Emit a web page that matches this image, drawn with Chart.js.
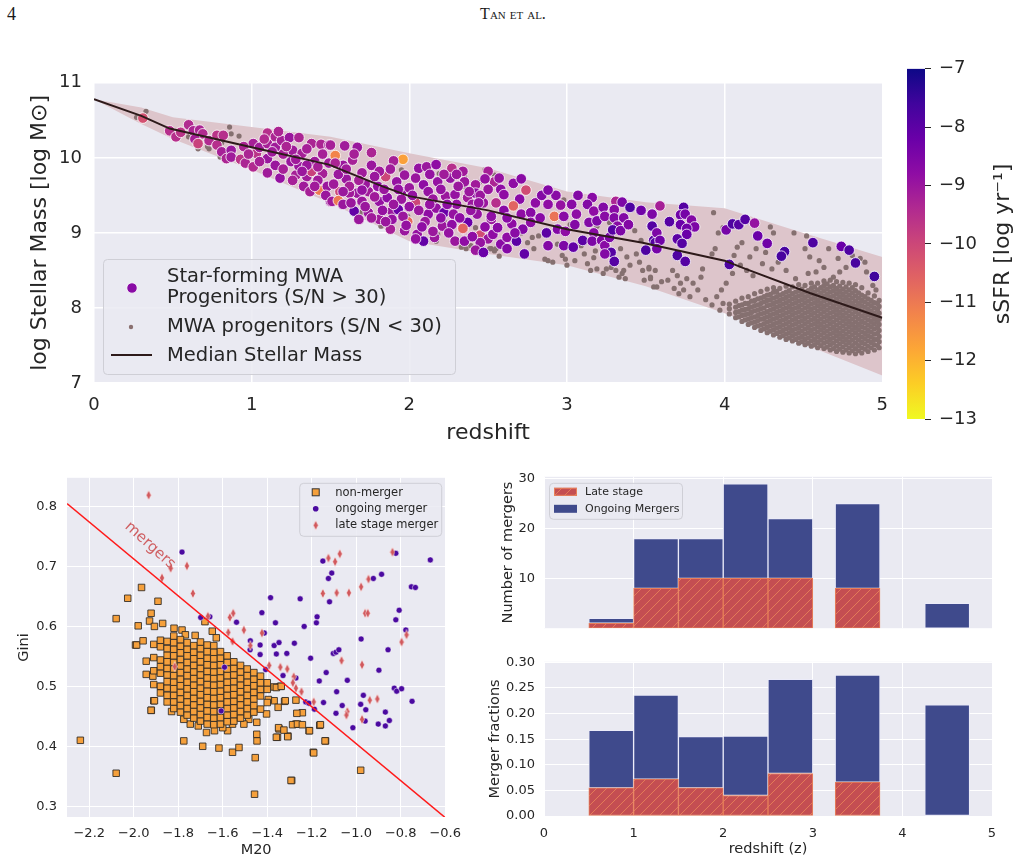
<!DOCTYPE html>
<html>
<head>
<meta charset="utf-8">
<script src="https://cdn.jsdelivr.net/npm/chart.js@4.4.1/dist/chart.umd.min.js"></script>
<style>
body{margin:0;background:#fff}
#page{position:relative;width:1026px;height:862px;overflow:hidden;background:#fff}
canvas{position:absolute}
.hdr{position:absolute;top:5px;line-height:1;font-family:"Liberation Serif",serif;font-size:17px;color:#1a1a1a}
</style>
</head>
<body>
<div id="page">
<div class="hdr" style="left:7px;font-size:18px">4</div>
<div class="hdr" style="left:0;width:1026px;text-align:center;font-variant:small-caps;font-size:16px;top:6px">Tan et al.</div>
<canvas id="mass" width="900" height="400" style="left:0;top:60px"></canvas>
<canvas id="cbar" width="126" height="390" style="left:900px;top:50px"></canvas>
<canvas id="gini" width="470" height="402" style="left:0;top:460px"></canvas>
<canvas id="hcount" width="556" height="185" style="left:470px;top:460px"></canvas>
<canvas id="hfrac" width="556" height="217" style="left:470px;top:645px"></canvas>
</div>
<script>

/* ---------- TOP PANEL DATA ---------- */

const zTicks=[0,1,2,3,4,5]
const massTicks=[7,8,9,10,11]
const sfrTicks=[-13,-12,-11,-10,-9,-8,-7]

// median stellar mass track
const medZ=[0,0.3,0.48,1.0,1.49,1.83,2.0,2.29,2.5,3.0,3.48,4.0,4.12,4.54,5.0]
const medM=[10.78,10.56,10.39,10.14,9.91,9.62,9.49,9.38,9.30,9.05,8.87,8.63,8.53,8.20,7.87]

// shaded band
const bandZ=[0,0.3,0.5,1.0,1.5,2.0,2.5,3.0,3.5,4.0,4.5,5.0]
const bandHi=[10.78,10.67,10.54,10.41,10.28,10.06,9.86,9.55,9.41,9.33,9.00,8.68]
const bandLo=[10.78,10.45,10.25,9.84,9.40,8.89,8.72,8.57,8.29,7.93,7.52,7.10]

// star-forming progenitors: [z, logM, sSFR]
const sfPts=[
[0.31,10.53,-10.2],[0.48,10.36,-9.5],[0.52,10.28,-9.5],[0.55,10.34,-9.6],[0.60,10.44,-9.4],[0.63,10.36,-9.3],
[0.67,10.37,-9.3],[0.69,10.32,-9.4],[0.64,10.25,-9.2],[0.66,10.19,-9.9],[0.73,10.23,-9.4],[0.78,10.30,-9.6],
[0.82,10.30,-9.5],[0.78,10.17,-9.5],[0.81,10.08,-9.2],[0.87,10.10,-9.0],[0.84,9.99,-9.3],[0.87,10.01,-9.1],
[0.93,9.98,-9.6],[0.96,9.93,-9.3],[1.01,10.19,-9.2],[1.03,10.06,-9.6],[1.01,9.88,-9.4],[1.05,10.14,-9.1],
[1.10,10.33,-9.5],[1.10,10.19,-9.2],[1.10,9.99,-9.0],[1.15,10.28,-9.3],[1.15,10.14,-9.1],[1.10,9.80,-9.1],
[1.15,9.90,-9.0],[1.18,9.73,-8.9],[1.19,10.23,-9.2],[1.24,10.27,-9.0],[1.26,10.10,-9.1],[1.25,9.95,-9.0],
[1.28,9.77,-9.2],[1.30,10.27,-9.3],[1.32,10.06,-9.2],[1.30,9.89,-9.0],[1.35,9.75,-9.1],[1.38,10.19,-9.3],
[1.38,9.82,-9.9],[1.33,9.62,-9.1],[1.37,9.55,-9.2],[1.44,10.18,-9.3],[1.43,9.57,-11.0],[1.45,9.79,-9.2],
[1.48,9.62,-9.0],[1.49,10.17,-9.2],[1.49,9.93,-9.1],[1.50,9.42,-9.0],[0.95,10.15,-9.3],[1.20,10.05,-9.2],
[1.40,9.95,-9.1],[1.45,10.05,-9.2],
[0.98,10.05,-9.3],[1.05,9.95,-9.2],[1.13,10.08,-9.1],[1.20,9.85,-9.2],[1.22,10.15,-9.3],[1.28,9.98,-9.1],
[1.35,10.12,-9.2],[1.35,9.90,-9.0],[1.42,9.70,-9.1],[1.42,9.88,-9.2],[1.47,9.50,-9.0],[1.40,9.62,-9.1],
[1.26,9.70,-9.2],[1.32,9.82,-9.0],[1.08,10.25,-9.4],[1.17,10.35,-9.3],
[1.53,10.03,-11.2],[1.59,10.16,-9.1],[1.67,10.14,-9.0],[1.64,9.97,-9.2],[1.58,9.90,-9.0],[1.53,9.93,-9.3],
[1.50,10.17,-9.2],[1.76,10.07,-9.3],[1.76,9.90,-9.0],[1.96,9.98,-11.7],[1.90,9.96,-9.2],[1.85,9.75,-10.0],
[1.81,9.82,-9.1],[1.97,9.77,-9.0],[2.06,9.86,-8.9],[2.11,9.88,-9.0],[2.17,9.91,-8.8],[2.27,9.86,-9.5],
[2.34,9.82,-9.1],[2.26,9.73,-8.9],[2.04,9.73,-9.0],[2.09,9.64,-8.8],[2.18,9.68,-8.9],[2.35,9.68,-9.0],
[2.42,9.64,-9.1],[2.50,9.82,-9.2],[2.54,9.68,-9.3],[1.56,9.55,-10.0],[1.51,9.42,-9.1],[1.55,9.43,-11.0],
[1.58,9.38,-9.0],[1.65,9.29,-8.1],[1.67,9.53,-9.0],[1.74,9.55,-9.1],[1.81,9.42,-8.9],[1.74,9.27,-9.0],
[1.86,9.47,-8.8],[1.89,9.29,-9.0],[1.81,9.18,-9.1],[1.88,9.05,-9.2],[1.93,9.31,-8.2],[1.99,9.15,-10.7],
[2.04,9.40,-10.0],[1.97,9.03,-9.0],[2.05,8.98,-8.9],[2.09,8.89,-8.1],[2.12,9.25,-8.8],[2.17,9.33,-8.9],
[2.23,9.49,-9.0],[2.22,9.27,-8.2],[2.21,9.09,-9.0],[2.27,9.11,-8.8],[2.34,9.05,-9.0],[2.29,9.51,-8.9],
[2.37,9.47,-9.1],[2.42,9.53,-8.8],[2.37,9.14,-8.2],[2.34,9.06,-10.6],[2.47,9.40,-9.0],[2.43,9.25,-8.9],
[2.45,8.97,-10.1],[2.50,8.92,-9.0],[2.45,8.87,-8.9],[2.42,8.77,-9.0],[2.47,8.74,-8.2],[2.29,8.89,-9.0],
[2.35,8.89,-8.8],[2.04,8.92,-8.9],[2.16,8.94,-9.0],[1.89,9.18,-8.9],[1.70,9.42,-9.0],[1.62,9.53,-9.1],
[2.52,9.18,-9.0],[1.60,9.72,-9.0],[1.70,9.80,-9.1],[1.72,9.65,-9.0],[1.80,9.62,-8.9],[1.62,9.62,-9.2],
[1.95,9.55,-8.9],[2.00,9.60,-9.0],[1.92,9.68,-8.9],[2.12,9.55,-8.9],[2.15,9.45,-9.0],[2.30,9.38,-8.9],
[2.40,9.38,-9.0],[2.00,9.35,-8.9],[2.10,9.15,-9.0],[2.20,9.20,-8.8],[2.28,9.25,-8.9],[1.95,9.45,-9.0],
[2.45,9.50,-9.0],[1.55,9.78,-9.0],[1.65,10.05,-9.2],[2.22,9.78,-9.1],[2.38,9.55,-9.0],
[1.52,9.65,-9.1],[1.58,9.55,-9.0],[1.60,9.85,-9.1],[1.63,9.40,-9.0],[1.68,9.70,-9.2],[1.70,9.57,-8.9],
[1.72,9.35,-9.0],[1.78,9.48,-9.1],[1.78,9.75,-9.0],[1.83,9.30,-8.9],[1.84,9.58,-9.0],[1.88,9.85,-9.1],
[1.90,9.38,-9.0],[1.93,9.58,-8.9],[1.96,9.22,-9.0],[1.98,9.10,-8.9],[1.85,9.15,-9.0],[1.76,9.20,-9.1],
[1.68,9.18,-9.0],
[2.02,9.50,-8.9],[2.06,9.30,-9.0],[2.08,9.08,-8.8],[2.13,9.38,-8.9],[2.15,9.02,-9.0],[2.20,9.58,-8.9],
[2.24,9.38,-8.8],[2.25,9.00,-8.9],[2.31,9.62,-9.0],[2.32,9.20,-8.8],[2.39,9.30,-8.9],[2.40,8.95,-8.8],
[2.44,9.40,-8.9],[2.48,9.08,-8.8],[2.50,9.58,-9.0],[2.48,9.72,-8.9],[2.30,9.78,-9.0],[2.13,9.78,-8.9],
[2.58,9.58,-8.8],[2.60,9.30,-8.7],[2.65,9.12,-8.8],[2.70,9.45,-8.7],[2.72,9.05,-8.6],[2.80,9.40,-8.8],
[2.83,9.20,-8.7],[2.84,9.50,-8.6],[2.93,9.50,-8.7],[2.94,9.05,-8.6],[2.58,8.85,-8.7],[2.53,8.98,-8.8],
[2.57,9.73,-8.9],[2.66,9.66,-8.8],[2.71,9.72,-8.7],[2.74,9.57,-10.1],[2.60,9.51,-8.8],[2.55,9.40,-9.5],
[2.66,9.36,-10.6],[2.52,9.22,-8.8],[2.62,9.20,-8.7],[2.71,9.25,-8.8],[2.77,9.27,-8.7],[2.77,9.14,-8.8],
[2.56,9.07,-8.7],[2.62,8.94,-8.8],[2.68,8.89,-8.0],[2.62,8.79,-8.6],[2.73,8.72,-8.1],[2.67,9.00,-8.7],
[2.88,9.57,-8.6],[2.88,9.38,-8.8],[2.92,9.22,-10.9],[2.87,9.00,-8.0],[2.88,8.83,-8.6],[2.96,9.37,-8.9],
[2.98,9.22,-8.7],[2.99,9.02,-8.8],[2.98,8.83,-8.5],[3.04,8.81,-8.1],[3.03,9.38,-8.7],[3.07,9.50,-8.6],
[3.06,9.25,-8.8],[3.05,9.11,-8.6],[3.10,8.90,-8.0],[3.16,9.47,-8.7],[3.13,9.38,-8.6],[3.17,9.29,-8.8],
[3.14,9.14,-8.6],[3.17,9.00,-8.7],[3.16,8.89,-8.5],[3.23,9.34,-8.6],[3.19,9.16,-8.5],[3.24,9.22,-8.7],
[3.22,8.90,-8.6],[3.24,8.83,-8.7],[3.27,8.94,-8.5],[3.28,8.74,-7.9],[3.24,8.72,-8.6],[3.30,8.62,-7.9],
[3.31,9.42,-9.3],[3.30,9.31,-8.7],[3.30,9.20,-8.6],[3.35,9.41,-8.5],[3.36,9.20,-8.6],[3.32,9.09,-8.7],
[3.29,9.04,-7.9],[3.34,9.03,-8.5],[3.39,9.11,-8.6],[3.40,9.34,-7.8],[3.47,9.30,-8.3],[3.54,9.25,-8.0],
[3.54,9.09,-7.8],[3.50,8.77,-7.8],[3.55,8.90,-7.9],
[3.59,9.36,-9.2],[3.54,9.25,-8.5],[3.54,9.09,-7.9],[3.57,9.00,-8.5],[3.56,8.87,-7.9],[3.59,8.90,-8.3],
[3.57,8.79,-8.4],[3.65,9.15,-7.9],[3.74,9.34,-7.9],[3.72,9.24,-8.3],[3.75,9.25,-8.4],[3.79,9.17,-8.6],
[3.81,9.08,-8.5],[3.72,9.11,-8.2],[3.76,9.06,-8.3],[3.76,8.98,-8.2],[3.70,8.92,-8.0],[3.73,8.86,-7.9],
[3.70,8.70,-7.8],[3.75,8.62,-7.9],[4.01,9.04,-8.4],[4.05,9.12,-7.8],[4.09,9.11,-7.9],[4.13,9.18,-7.9],
[4.19,9.13,-8.9],[4.21,8.96,-8.2],[4.27,8.86,-8.3],[4.03,8.58,-7.8],[4.38,8.75,-7.7],[4.36,8.69,-7.7],
[4.56,8.87,-7.8],[4.74,8.82,-8.2],[4.79,8.77,-7.8],[4.83,8.60,-7.7],[4.95,8.42,-7.6]
]

// low S/N progenitors, scattered ones: [z, logM]
const lowSparse=[
[0.27,10.54],[0.33,10.62],[0.60,10.28],[0.66,10.12],[0.72,10.15],[0.73,10.12],[0.75,10.23],[0.81,10.20],
[0.80,10.01],[0.86,10.41],[0.87,10.32],[0.92,10.29],
[1.69,9.27],[1.82,9.09],[1.95,9.84],[2.19,9.79],[2.45,9.68],[2.48,9.84],[2.54,9.77],[2.35,9.62],[2.17,8.89],
[2.18,8.98],[2.33,8.81],[2.36,8.79],[2.39,8.83],[2.52,8.79],[2.54,8.76],[2.26,9.03],[2.11,9.27],[2.22,9.16],
[2.42,9.07],[1.88,9.22],[1.99,9.22],[2.35,9.75],
[2.51,8.79],[2.55,8.79],[2.57,8.69],[2.71,9.00],[2.75,8.87],[2.78,8.94],[2.82,8.96],[2.79,8.79],[2.86,8.65],
[2.88,8.63],[2.91,8.61],[2.97,8.70],[2.99,8.65],[3.00,8.57],[3.05,8.63],[2.98,9.44],[3.02,9.11],[2.94,8.85],
[3.11,8.72],[3.13,8.59],[3.17,8.67],[3.15,8.50],[3.19,8.52],[3.23,8.46],[3.25,8.52],[3.28,8.54],[3.31,8.50],
[3.33,8.41],[3.35,8.46],[3.37,8.39],[3.36,8.50],[3.38,8.68],[3.40,8.57],[3.44,8.72],[3.46,8.61],[3.48,8.50],
[3.49,8.37],[3.52,8.54],[3.53,8.41],[3.55,8.28],[3.56,8.50],[3.43,9.03],[3.34,8.79],[3.26,8.79],[3.18,8.76],
[3.09,8.83],[3.47,8.90],[3.27,9.14],[3.19,9.09],
[3.93,9.27],[3.96,9.00],[3.99,9.07],[3.94,8.79],[3.92,8.72],[3.86,8.52],[3.85,8.41],[3.83,8.24],[3.78,8.15],
[3.74,8.24],[3.71,8.19],[3.68,8.26],[3.64,8.37],[3.60,8.35],[3.57,8.28],[3.53,8.39],[3.52,8.52],[3.67,8.50],
[3.70,8.43],[3.76,8.39],[3.80,8.33],[3.72,8.33],[3.88,8.11],[3.92,8.04],[3.95,8.15],[3.98,8.24],[3.99,8.06],
[3.97,7.97],[4.01,8.33],[4.05,8.46],[4.06,8.70],[4.08,8.81],[4.11,8.87],[4.10,8.57],[4.14,8.50],[4.18,8.43],
[4.16,8.68],[4.20,8.79],[4.24,8.59],[4.26,8.74],[4.29,9.08],[4.31,9.00],[4.30,8.52],[4.34,8.61],[4.39,8.50],
[4.44,9.00],[4.45,8.39],[4.52,8.96],[4.51,8.79],[4.54,8.68],[4.53,8.46],[4.58,8.48],[4.60,8.63],[4.63,8.54],
[4.66,8.79],[4.69,8.41],[4.72,8.66],[4.73,8.48],[4.77,8.54],[4.81,8.70],[4.86,8.66],[4.89,8.61],[4.90,8.48],
[4.94,8.30],[4.96,8.24]
]

// low S/N progenitors, crowded region at high z (column z, masses in that column)
const lowDenseZ=[4.03,4.07,4.11,4.15,4.19,4.23,4.27,4.31,4.35,4.39,4.43,4.47,4.51,4.55,4.59,4.63,4.67,4.71,4.75,4.79,4.83,4.87,4.91,4.95,4.98,
4.09,4.13,4.17,4.21,4.25,4.29,4.33,4.37,4.41,4.45,4.49,4.53,4.57,4.61,4.65,4.69,4.73,4.77,4.81,4.85,4.89,4.93,4.97]
const lowDenseM=[
[7.92,7.99,8.05],
[7.87,7.94,8.01,8.09],
[7.82,7.90,7.97,8.04,8.13],
[7.78,7.85,7.92,7.99,8.06,8.15],
[7.74,7.81,7.88,7.96,8.03,8.10,8.19],
[7.70,7.77,7.85,7.92,7.99,8.06,8.13,8.22],
[7.67,7.74,7.81,7.88,7.95,8.03,8.10,8.17,8.25],
[7.64,7.71,7.78,7.85,7.92,7.99,8.06,8.13,8.21,8.27],
[7.61,7.68,7.75,7.82,7.89,7.96,8.03,8.10,8.17,8.26],
[7.58,7.65,7.72,7.79,7.86,7.93,8.00,8.07,8.14,8.21,8.29],
[7.56,7.63,7.70,7.77,7.84,7.91,7.98,8.05,8.12,8.19,8.28],
[7.53,7.60,7.67,7.74,7.81,7.88,7.95,8.02,8.09,8.16,8.23,8.31],
[7.51,7.58,7.65,7.72,7.79,7.86,7.93,8.00,8.07,8.14,8.21,8.30],
[7.49,7.56,7.63,7.70,7.77,7.84,7.91,7.98,8.05,8.12,8.19,8.26,8.33],
[7.47,7.54,7.61,7.68,7.75,7.82,7.89,7.96,8.03,8.10,8.17,8.24,8.33],
[7.46,7.53,7.60,7.67,7.74,7.81,7.88,7.95,8.02,8.09,8.16,8.23,8.30,8.36],
[7.44,7.51,7.58,7.65,7.72,7.79,7.86,7.93,8.00,8.07,8.14,8.21,8.28,8.37],
[7.42,7.49,7.56,7.63,7.70,7.77,7.84,7.91,7.98,8.05,8.12,8.19,8.26,8.35],
[7.41,7.48,7.55,7.62,7.69,7.76,7.83,7.90,7.97,8.04,8.11,8.18,8.25,8.34],
[7.40,7.47,7.54,7.61,7.68,7.75,7.82,7.89,7.96,8.03,8.10,8.17,8.24,8.33],
[7.39,7.46,7.53,7.60,7.67,7.74,7.81,7.88,7.95,8.02,8.09,8.16,8.23,8.31],
[7.40,7.47,7.54,7.61,7.68,7.75,7.82,7.89,7.96,8.03,8.10,8.17,8.27],
[7.42,7.49,7.56,7.63,7.70,7.77,7.84,7.91,7.98,8.05,8.12,8.20],
[7.44,7.51,7.58,7.65,7.72,7.79,7.86,7.93,8.00,8.07,8.16],
[7.47,7.55,7.62,7.70,7.78,7.85,7.93,8.02,8.10],
[7.88,7.95,8.03],
[7.84,7.91,7.98,8.06],
[7.80,7.87,7.94,8.01,8.09],
[7.76,7.83,7.90,7.97,8.04,8.12],
[7.72,7.79,7.86,7.93,8.00,8.08,8.15],
[7.69,7.76,7.83,7.90,7.97,8.04,8.11,8.18],
[7.66,7.73,7.80,7.87,7.94,8.01,8.08,8.15,8.22],
[7.63,7.70,7.77,7.84,7.91,7.98,8.05,8.12,8.19],
[7.60,7.67,7.74,7.81,7.88,7.95,8.02,8.09,8.16,8.23],
[7.58,7.65,7.72,7.79,7.86,7.93,8.00,8.07,8.14,8.21],
[7.55,7.62,7.69,7.76,7.83,7.90,7.97,8.04,8.11,8.18,8.25],
[7.53,7.60,7.67,7.74,7.81,7.88,7.95,8.02,8.09,8.16,8.23],
[7.51,7.58,7.65,7.72,7.79,7.86,7.93,8.00,8.07,8.14,8.21,8.28],
[7.50,7.57,7.64,7.71,7.78,7.85,7.92,7.99,8.06,8.13,8.20,8.27],
[7.48,7.55,7.62,7.69,7.76,7.83,7.90,7.97,8.04,8.11,8.18,8.25,8.32],
[7.46,7.53,7.60,7.67,7.74,7.81,7.88,7.95,8.02,8.09,8.16,8.23,8.30],
[7.45,7.52,7.59,7.66,7.73,7.80,7.87,7.94,8.01,8.08,8.15,8.22,8.29],
[7.44,7.51,7.58,7.65,7.72,7.79,7.86,7.93,8.00,8.07,8.14,8.21,8.28],
[7.43,7.50,7.57,7.64,7.71,7.78,7.85,7.92,7.99,8.06,8.13,8.20,8.27],
[7.43,7.50,7.57,7.64,7.71,7.78,7.85,7.92,7.99,8.06,8.13,8.20],
[7.45,7.52,7.59,7.66,7.73,7.80,7.87,7.94,8.01,8.08,8.15],
[7.47,7.54,7.61,7.68,7.75,7.82,7.89,7.96,8.03,8.10],
[7.50,7.58,7.66,7.74,7.82,7.90,7.98,8.06]
]

/* ---------- GINI - M20 DATA ---------- */

const m20Ticks=[-2.2,-2.0,-1.8,-1.6,-1.4,-1.2,-1.0,-0.8,-0.6]
const giniTicks=[0.3,0.4,0.5,0.6,0.7,0.8]
const lineM20=[-2.3,-0.6]
const lineGini=[0.805,0.281]

// non-merger outliers [M20, Gini]
const nmOut=[
[-2.240,0.410],[-2.079,0.613],[-2.079,0.355],[-2.027,0.647],[-1.965,0.665],[-1.891,0.642],[-1.980,0.601],
[-1.992,0.569],[-1.921,0.460],[-1.910,0.476],[-1.775,0.409],[-1.690,0.400],[-1.617,0.397],[-1.556,0.390],
[-1.527,0.398],[-1.454,0.381],[-1.457,0.320],[-1.446,0.409],[-1.290,0.343],[-1.193,0.390],[-1.138,0.409],
[-1.164,0.435],[-1.212,0.426],[-0.980,0.360],[-1.242,0.456],[-1.267,0.455],[-1.271,0.437],[-1.307,0.417],
[-1.354,0.415],[-1.347,0.429],[-1.322,0.475],[-1.341,0.500],[-1.369,0.499],
[-1.922,0.622],[-1.929,0.609],[-1.870,0.605],[-1.907,0.600],[-1.819,0.597],[-1.783,0.594],[-1.768,0.586],
[-1.724,0.585],[-1.680,0.608],[-1.647,0.592],[-1.629,0.581],[-1.987,0.569],[-1.958,0.576],[-1.944,0.542],
[-1.944,0.520],[-1.914,0.517],[-1.878,0.500],[-1.907,0.476],[-1.922,0.460],[-1.830,0.458],[-1.447,0.420],
[-1.359,0.415],[-1.349,0.431],[-1.325,0.427],[-1.308,0.416],[-1.286,0.436],[-1.264,0.437],[-1.242,0.436],
[-1.210,0.426],[-1.161,0.436],[-1.140,0.409],[-1.191,0.389],[-1.271,0.477],[-1.293,0.343],[-1.359,0.498],
[-1.337,0.500],[-1.369,0.476],[-1.351,0.465],[-1.319,0.476],[-1.395,0.478],[-1.403,0.454],[-1.447,0.440],
[-1.483,0.445],[-1.505,0.437],[-1.527,0.448],[-1.556,0.437],[-1.578,0.426],[-1.600,0.431],[-1.637,0.426],
[-1.673,0.423],[-1.710,0.434],[-1.746,0.437],[-1.775,0.445]
]

// non-merger crowded core (column M20, Gini values in that column)
const nmCoreM20=[-1.91,-1.88,-1.85,-1.82,-1.79,-1.76,-1.73,-1.70,-1.67,-1.64,-1.61,-1.58,-1.55,-1.52,-1.49,-1.46,-1.43,-1.40]
const nmCoreGini=[
[0.503,0.526,0.548,0.570],
[0.489,0.500,0.522,0.533,0.544,0.566,0.577],
[0.474,0.485,0.497,0.508,0.519,0.530,0.541,0.552,0.563,0.575],
[0.463,0.474,0.485,0.496,0.507,0.518,0.529,0.540,0.551,0.562,0.573,0.584],
[0.457,0.468,0.479,0.490,0.501,0.512,0.523,0.534,0.545,0.556,0.567,0.578],
[0.452,0.463,0.474,0.485,0.496,0.507,0.518,0.529,0.540,0.551,0.562,0.573],
[0.447,0.458,0.469,0.480,0.491,0.502,0.513,0.524,0.535,0.546,0.557,0.568],
[0.442,0.453,0.464,0.475,0.486,0.497,0.508,0.519,0.530,0.541,0.552,0.563,0.574],
[0.437,0.448,0.459,0.470,0.481,0.492,0.503,0.514,0.525,0.536,0.547,0.558,0.569],
[0.436,0.447,0.458,0.469,0.480,0.491,0.502,0.513,0.524,0.535,0.546,0.557,0.568],
[0.437,0.448,0.459,0.470,0.481,0.492,0.503,0.514,0.525,0.536,0.547,0.558],
[0.441,0.452,0.463,0.474,0.485,0.496,0.507,0.518,0.529,0.540,0.551],
[0.442,0.453,0.464,0.475,0.486,0.497,0.508,0.519,0.530,0.541],
[0.447,0.458,0.469,0.480,0.491,0.502,0.513,0.524,0.535],
[0.452,0.463,0.474,0.485,0.496,0.507,0.518,0.529],
[0.457,0.468,0.479,0.490,0.501,0.512,0.523],
[0.462,0.484,0.495,0.506,0.517],
[0.473,0.495,0.506]
]

// ongoing mergers [M20, Gini]
const ongoing=[
[-1.783,0.724],[-1.699,0.615],[-1.658,0.616],[-1.592,0.532],[-1.607,0.459],[-1.538,0.607],[-1.476,0.576],
[-1.477,0.561],[-1.432,0.553],[-1.432,0.569],[-1.413,0.589],[-1.424,0.623],[-1.385,0.648],[-1.407,0.528],
[-1.369,0.568],[-1.363,0.606],[-1.359,0.554],[-1.347,0.573],[-1.329,0.518],[-1.312,0.555],[-1.278,0.572],
[-1.271,0.514],[-1.252,0.646],[-1.234,0.600],[-1.227,0.474],[-1.213,0.472],[-1.205,0.547],[-1.188,0.462],
[-1.179,0.606],[-1.176,0.616],[-1.166,0.509],[-1.150,0.709],[-1.147,0.473],[-1.135,0.523],[-1.125,0.680],
[-1.120,0.641],[-1.110,0.689],[-1.103,0.555],[-1.091,0.557],[-1.088,0.491],[-1.091,0.455],[-1.078,0.561],
[-1.063,0.468],[-1.040,0.510],[-1.015,0.431],[-0.978,0.579],[-0.980,0.470],[-0.968,0.485],[-0.960,0.442],
[-0.957,0.461],[-0.923,0.680],[-0.898,0.527],[-0.901,0.437],[-0.886,0.687],[-0.857,0.561],[-0.869,0.457],
[-0.851,0.443],[-0.869,0.434],[-0.829,0.497],[-0.822,0.611],[-0.822,0.722],[-0.818,0.492],[-0.807,0.627],
[-0.796,0.496],[-0.777,0.594],[-0.752,0.666],[-0.749,0.475],[-0.734,0.665],[-0.667,0.711]
]

// late stage mergers [M20, Gini]
const lateStage=[
[-1.933,0.819],[-1.873,0.681],[-1.834,0.697],[-1.761,0.701],[-1.734,0.655],[-1.816,0.533],[-1.667,0.617],
[-1.575,0.590],[-1.568,0.615],[-1.553,0.622],[-1.556,0.575],[-1.505,0.594],[-1.476,0.568],[-1.424,0.589],
[-1.391,0.535],[-1.341,0.532],[-1.310,0.529],[-1.281,0.516],[-1.285,0.506],[-1.271,0.497],[-1.246,0.491],
[-1.191,0.474],[-1.150,0.655],[-1.125,0.714],[-1.095,0.708],[-1.088,0.656],[-1.074,0.721],[-1.066,0.543],
[-1.033,0.656],[-1.040,0.458],[-1.044,0.452],[-0.978,0.666],[-0.974,0.536],[-0.974,0.445],[-0.960,0.622],
[-0.948,0.622],[-0.945,0.679],[-0.939,0.477],[-0.905,0.479],[-0.837,0.724],[-0.796,0.574],[-0.774,0.586]
]

/* ---------- HISTOGRAM DATA ---------- */

const binMid=[0.75,1.25,1.75,2.25,2.75,3.5,4.5]
const lateCount=[1,8,10,10,10,8,0]
const allCount=[2,18,18,29,22,25,5]
const lateFrac=[0.055,0.072,0.055,0.040,0.083,0.066,0]
const allFrac=[0.167,0.236,0.155,0.156,0.267,0.275,0.217]
const zhTicks=[0,1,2,3,4,5]
const countTicks=[10,20,30]
const fracTicks=[0,0.05,0.10,0.15,0.20,0.25,0.30]

/* ---------- helpers ---------- */

Chart.defaults.font.family='"DejaVu Sans"'
Chart.defaults.color='#262626'
Chart.defaults.animation=false
Chart.defaults.plugins.legend.display=false
Chart.defaults.plugins.tooltip.enabled=false

const plasmaStops=['#0d0887','#41049d','#6a00a8','#8f0da4','#b12a90','#cc4778','#e16462','#f2844b','#fca636','#fcce25','#f0f921']

function hexRgb(h){return [parseInt(h.substr(1,2),16),parseInt(h.substr(3,2),16),parseInt(h.substr(5,2),16)]}

function plasma(s){
let t=(-7-s)/6
t=Math.min(1,Math.max(0,t))
const f=t*10,i=Math.min(9,Math.floor(f)),r=f-i
const a=hexRgb(plasmaStops[i]),b=hexRgb(plasmaStops[i+1])
return 'rgb('+a.map((v,k)=>Math.round(v+(b[k]-v)*r)).join(',')+')'
}

const minus=s=>String(s).replace('-','\u2212')
const setTicks=arr=>s=>{s.ticks=arr.map(v=>({value:v}))}

const plotBg={id:'plotBg',beforeDraw(c){
const a=c.chartArea,ctx=c.ctx
ctx.save();ctx.fillStyle='#eaeaf2';ctx.fillRect(a.left,a.top,a.width,a.height);ctx.restore()
}}

function legendBox(ctx,x,y,w,h){
ctx.beginPath()
ctx.roundRect(x+0.5,y+0.5,w,h,4)
ctx.fillStyle='rgba(234,234,242,0.85)'
ctx.fill()
ctx.strokeStyle='#cfcfd6'
ctx.lineWidth=1
ctx.stroke()
}

const gridW={color:'#ffffff',lineWidth:1.5,drawTicks:false}
const gridN={color:'#ffffff',lineWidth:1,drawTicks:false}

/* ---------- TOP: stellar mass vs redshift ---------- */

const lowPts=lowSparse.slice()
lowDenseZ.forEach((z,i)=>lowDenseM[i].forEach(m=>lowPts.push([z,m])))

const massLegend={id:'massLegend',afterDraw(c){
const ctx=c.ctx,a=c.chartArea
const x0=a.left+9,y0=a.bottom-124
ctx.save()
legendBox(ctx,x0,y0,352,115)
ctx.fillStyle=plasma(-8.7);ctx.strokeStyle='#fff';ctx.lineWidth=0.8
ctx.beginPath();ctx.arc(x0+29,y0+29,5.2,0,Math.PI*2);ctx.fill();ctx.stroke()
ctx.fillStyle='#8a7070'
ctx.beginPath();ctx.arc(x0+28,y0+68,2.2,0,Math.PI*2);ctx.fill()
ctx.strokeStyle='#2d1a1a';ctx.lineWidth=2
ctx.beginPath();ctx.moveTo(x0+8,y0+96);ctx.lineTo(x0+49,y0+96);ctx.stroke()
ctx.fillStyle='#262626';ctx.font='19.5px "DejaVu Sans"';ctx.textBaseline='middle'
ctx.fillText('Star-forming MWA',x0+64,y0+18)
ctx.fillText('Progenitors (S/N > 30)',x0+64,y0+39)
ctx.fillText('MWA progenitors (S/N < 30)',x0+64,y0+68)
ctx.fillText('Median Stellar Mass',x0+64,y0+97)
ctx.restore()
}}

new Chart(document.getElementById('mass'),{
type:'scatter',
data:{datasets:[
{label:'Median Stellar Mass',type:'line',data:medZ.map((z,i)=>({x:z,y:medM[i]})),
 borderColor:'#2d1a1a',borderWidth:2,pointRadius:0,fill:false,order:0},
{label:'Star-forming MWA Progenitors (S/N > 30)',data:sfPts.map(p=>({x:p[0],y:p[1]})),
 backgroundColor:sfPts.map(p=>plasma(p[2])),borderColor:'#ffffff',borderWidth:0.8,pointRadius:5.3,order:1},
{label:'MWA progenitors (S/N < 30)',data:lowPts.map(p=>({x:p[0],y:p[1]})),
 backgroundColor:'#857070',borderWidth:0,pointRadius:2.6,order:2},
{label:'band upper',type:'line',data:bandZ.map((z,i)=>({x:z,y:bandHi[i]})),
 fill:'+1',backgroundColor:'#ddc5cb',borderColor:'rgba(0,0,0,0)',borderWidth:0,pointRadius:0,order:3},
{label:'band lower',type:'line',data:bandZ.map((z,i)=>({x:z,y:bandLo[i]})),
 fill:false,borderColor:'rgba(0,0,0,0)',borderWidth:0,pointRadius:0,order:4}
]},
options:{
responsive:false,
layout:{padding:{left:0,right:15,top:20,bottom:0}},
scales:{
x:{type:'linear',min:0,max:5,afterBuildTicks:setTicks(zTicks),afterFit:s=>{s.height=77},
 grid:gridW,border:{display:false},
 ticks:{padding:12,font:{size:18},maxRotation:0,callback:v=>minus(v)},
 title:{display:true,text:'redshift',font:{size:22},padding:{top:0,bottom:14}}},
y:{type:'linear',min:7,max:11,afterBuildTicks:setTicks(massTicks),afterFit:s=>{s.width=94},
 grid:gridW,border:{display:false},
 ticks:{padding:12,font:{size:18},callback:v=>minus(v)},
 title:{display:true,text:'log Stellar Mass [log M\u2299]',font:{size:22},padding:{top:27,bottom:0}}}
}
},
plugins:[plotBg,massLegend]
})

/* ---------- COLORBAR ---------- */

const cbTitle={id:'cbTitle',afterDraw(c){
const ctx=c.ctx,a=c.chartArea
ctx.save()
ctx.translate(a.right+78,(a.top+a.bottom)/2)
ctx.rotate(-Math.PI/2)
ctx.fillStyle='#262626';ctx.font='22px "DejaVu Sans"';ctx.textAlign='center';ctx.textBaseline='middle'
ctx.fillText('sSFR [log yr\u207B\u00B9]',0,0)
ctx.restore()
}}

new Chart(document.getElementById('cbar'),{
type:'bar',
data:{labels:['sSFR'],datasets:[{data:[[sfrTicks[0],sfrTicks[sfrTicks.length-1]]],
 barPercentage:1,categoryPercentage:1,borderWidth:0,
 backgroundColor:ctx=>{
  const a=ctx.chart.chartArea
  if(!a) return '#8f0da4'
  const g=ctx.chart.ctx.createLinearGradient(0,a.top,0,a.bottom)
  plasmaStops.forEach((c,i)=>g.addColorStop(i/(plasmaStops.length-1),c))
  return g
 }}]},
options:{
responsive:false,
layout:{padding:{left:7,right:0,top:16,bottom:21}},
scales:{
x:{display:false},
y:{position:'right',min:-13,max:-7,afterBuildTicks:setTicks(sfrTicks),afterFit:s=>{s.width=101},
 grid:{drawOnChartArea:false,drawTicks:true,tickLength:6,tickColor:'#262626',tickWidth:1},
 border:{display:false},
 ticks:{padding:8,font:{size:18},callback:v=>minus(v)}}
}
},
plugins:[cbTitle]
})

/* ---------- GINI vs M20 ---------- */

const nmPts=nmOut.slice()
nmCoreM20.forEach((m,i)=>nmCoreGini[i].forEach(g=>nmPts.push([m,g])))

// thin diamond marker for late stage mergers
const thinD=document.createElement('canvas')
thinD.width=6;thinD.height=11
;(()=>{
const d=thinD.getContext('2d')
d.beginPath();d.moveTo(3,0.5);d.lineTo(5.5,5.5);d.lineTo(3,10.5);d.lineTo(0.5,5.5);d.closePath()
d.fillStyle='#d1585c';d.fill();d.strokeStyle='rgba(255,255,255,0.9)';d.lineWidth=0.6;d.stroke()
})()

const giniExtras={id:'giniExtras',afterDraw(c){
const ctx=c.ctx,a=c.chartArea,xs=c.scales.x,ys=c.scales.y
ctx.save()
// mergers label along the dividing line
ctx.translate(xs.getPixelForValue(-1.927),ys.getPixelForValue(0.735))
ctx.rotate(42*Math.PI/180)
ctx.fillStyle='#cf5f62';ctx.font='15px "DejaVu Sans"';ctx.textAlign='center';ctx.textBaseline='middle'
ctx.fillText('mergers',0,0)
ctx.restore()
// legend
const x0=a.right-146,y0=a.top+5
ctx.save()
legendBox(ctx,x0,y0,142,53)
ctx.fillStyle='#f5a03c';ctx.strokeStyle='#333';ctx.lineWidth=1
ctx.fillRect(x0+13,y0+6,7,7);ctx.strokeRect(x0+13,y0+6,7,7)
ctx.fillStyle='#4b0aa0';ctx.beginPath();ctx.arc(x0+16.5,y0+26,2.8,0,Math.PI*2);ctx.fill()
ctx.drawImage(thinD,x0+13.5,y0+37)
ctx.fillStyle='#262626';ctx.font='11.5px "DejaVu Sans"';ctx.textBaseline='middle'
ctx.fillText('non-merger',x0+36,y0+10)
ctx.fillText('ongoing merger',x0+36,y0+26)
ctx.fillText('late stage merger',x0+36,y0+42)
ctx.restore()
}}

new Chart(document.getElementById('gini'),{
type:'scatter',
data:{datasets:[
{label:'mergers line',type:'line',data:lineM20.map((m,i)=>({x:m,y:lineGini[i]})),
 borderColor:'#ff1a1a',borderWidth:1.5,pointRadius:0,fill:false,order:0},
{label:'late stage merger',data:lateStage.map(p=>({x:p[0],y:p[1]})),pointStyle:thinD,pointRadius:5,order:1},
{label:'ongoing merger',data:ongoing.map(p=>({x:p[0],y:p[1]})),
 backgroundColor:'#4b0aa0',borderColor:'#ffffff',borderWidth:0.5,pointRadius:3,order:2},
{label:'non-merger',data:nmPts.map(p=>({x:p[0],y:p[1]})),pointStyle:'rect',
 backgroundColor:'#f5a03c',borderColor:'rgba(45,40,35,0.85)',borderWidth:1,pointRadius:4.6,order:3}
]},
options:{
responsive:false,
layout:{padding:{left:0,right:18,top:15,bottom:0}},
scales:{
x:{type:'linear',min:-2.3,max:-0.6,afterBuildTicks:setTicks(m20Ticks),afterFit:s=>{s.height=45},
 grid:gridN,border:{display:false},
 ticks:{padding:9,font:{size:13},maxRotation:0,callback:v=>minus(v.toFixed(1))},
 title:{display:true,text:'M20',font:{size:14.5},padding:{top:0,bottom:3}}},
y:{type:'linear',min:0.282,max:0.848,afterBuildTicks:setTicks(giniTicks),afterFit:s=>{s.width=67},
 grid:gridN,border:{display:false},
 ticks:{padding:10,font:{size:13},callback:v=>v.toFixed(1)},
 title:{display:true,text:'Gini',font:{size:14.5},padding:{top:16,bottom:0}}}
}
},
plugins:[plotBg,giniExtras]
})

/* ---------- HISTOGRAMS ---------- */

function hatchFor(id){
const pc=document.createElement('canvas')
pc.width=10;pc.height=10
const p=pc.getContext('2d')
p.fillStyle='#c44e52';p.fillRect(0,0,10,10)
p.strokeStyle='rgba(240,140,90,0.9)';p.lineWidth=0.8
p.beginPath()
p.moveTo(0,10);p.lineTo(10,0)
p.moveTo(-1,1);p.lineTo(1,-1)
p.moveTo(9,11);p.lineTo(11,9)
p.stroke()
return document.getElementById(id).getContext('2d').createPattern(pc,'repeat')
}

const blueBar='#3f4a8c'

function histLegend(c){
const ctx=c.ctx,a=c.chartArea
const x0=a.left+5,y0=a.top+6
ctx.save()
legendBox(ctx,x0,y0,133,36)
ctx.fillStyle=hatchFor('hcount');ctx.fillRect(x0+5,y0+5,23,8)
ctx.strokeStyle='#e8805a';ctx.lineWidth=1;ctx.strokeRect(x0+5.5,y0+5.5,22,7)
ctx.fillStyle=blueBar;ctx.fillRect(x0+5,y0+22,23,8)
ctx.fillStyle='#262626';ctx.font='11px "DejaVu Sans"';ctx.textBaseline='middle'
ctx.fillText('Late stage',x0+36,y0+9)
ctx.fillText('Ongoing Mergers',x0+36,y0+26)
ctx.restore()
}

function histChart(id,late,all,yMax,yTicks,fmt,yTitle,showX,xH,yTitlePad,padTop){
return new Chart(document.getElementById(id),{
type:'bar',
data:{datasets:[
{label:'Late stage',data:binMid.map((x,i)=>({x:x,y:late[i]||null})),
 backgroundColor:hatchFor(id),borderColor:'#e8805a',borderWidth:1,borderSkipped:false,
 grouped:false,barPercentage:1,categoryPercentage:1,order:0},
{label:'Ongoing Mergers',data:binMid.map((x,i)=>({x:x,y:[late[i],all[i]]})),
 backgroundColor:blueBar,borderColor:'rgba(235,235,250,0.85)',borderWidth:1,borderSkipped:false,
 grouped:false,barPercentage:1,categoryPercentage:1,order:1}
]},
options:{
responsive:false,
layout:{padding:{left:0,right:34,top:padTop,bottom:0}},
scales:{
x:{type:'linear',min:0,max:5,offset:false,afterBuildTicks:setTicks(zhTicks),afterFit:s=>{s.height=xH},
 grid:{color:'#ffffff',lineWidth:1,drawTicks:false,offset:false},border:{display:false},
 ticks:{display:showX,padding:10,font:{size:13},maxRotation:0},
 title:{display:showX,text:'redshift (z)',font:{size:14.5},padding:{top:0,bottom:4}}},
y:{type:'linear',min:0,max:yMax,afterBuildTicks:setTicks(yTicks),afterFit:s=>{s.width=74},
 grid:gridN,border:{display:false},
 ticks:{padding:9,font:{size:13},callback:fmt},
 title:{display:true,text:yTitle,font:{size:14.5},padding:{top:yTitlePad,bottom:0}}}
}
},
plugins:[plotBg].concat(id==='hcount'?[{id:'hl',afterDraw:histLegend}]:[])
})
}

histChart('hcount',lateCount,allCount,30.4,countTicks,v=>String(v),'Number of mergers',false,9,29.5,15)
histChart('hfrac',lateFrac,allFrac,0.301,fracTicks,v=>v.toFixed(2),'Merger fractions',true,46,16.5,10)

</script>
</body>
</html>
